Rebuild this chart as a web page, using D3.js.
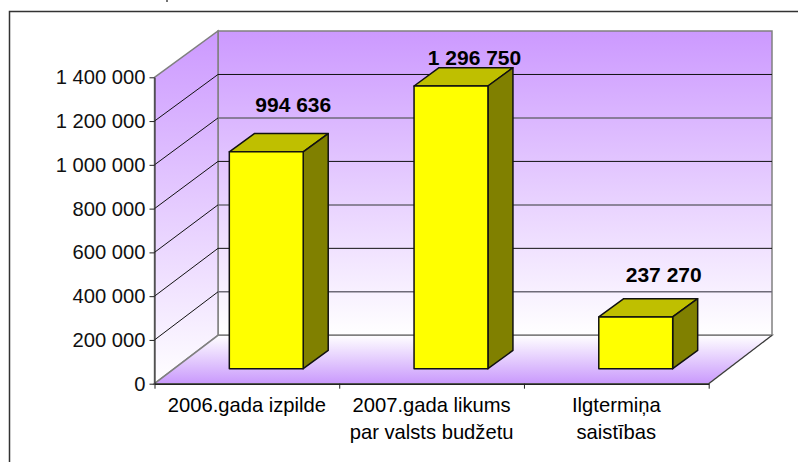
<!DOCTYPE html>
<html>
<head>
<meta charset="utf-8">
<script src="https://cdn.jsdelivr.net/npm/d3@7"></script>
<style>
html, body { margin: 0; padding: 0; background: #fff; overflow: hidden; }
text { font-family: "Liberation Sans", Arial, sans-serif; fill: #000; }
</style>
</head>
<body>
<div id="chart"></div>
<script>
var categories = ["2006.gada izpilde", "2007.gada likums|par valsts budžetu", "Ilgtermiņa|saistības"];
var values = [994636, 1296750, 237270];
var yTicks = [0, 200000, 400000, 600000, 800000, 1000000, 1200000, 1400000];

var width = 798, height = 462;
var plot = {left: 154.5, right: 708.7, top: 77.3, bottom: 383.7};
var back = {left: 218, right: 772, top: 31, bottom: 335.3};
var barDepth = {x: 25, y: 18.3};
var barFloor = {shift: 19.4, bottom: 368.7, top: 63.5};
// data labels were dragged by hand in the original
var labelNudge = [{x: 27, y: -39.7}, {x: 23.5, y: -21}, {x: 28, y: -35}];

var svg = d3.select("#chart").append("svg")
  .attr("width", width)
  .attr("height", height);

var yScale = d3.scaleLinear()
  .domain([0, 1400000])
  .range([plot.bottom, plot.top]);

// the perspective squeezes the back wall and the bars a little
var backScale = d3.scaleLinear()
  .domain([0, 1400000])
  .range([back.bottom, back.top]);

var barScale = d3.scaleLinear()
  .domain([0, 1400000])
  .range([barFloor.bottom, barFloor.top]);

var xScale = d3.scaleBand()
  .domain(categories)
  .range([plot.left, plot.right])
  .paddingInner(0.6)
  .paddingOuter(0.3);

var edgeScale = d3.scaleLinear()
  .domain([0, categories.length])
  .range([plot.left, plot.right]);

var spaced = function(d) {
  return d3.format(",")(d).replace(/,/g, " ");
};

var poly = function(points) {
  return points.map(function(p) { return p.join(","); }).join(" ");
};

var defs = svg.append("defs");

var wallGrad = defs.append("linearGradient")
  .attr("id", "wall").attr("x1", 0).attr("y1", 0).attr("x2", 0).attr("y2", 1);
wallGrad.append("stop").attr("offset", 0).attr("stop-color", "#cc99ff");
wallGrad.append("stop").attr("offset", 1).attr("stop-color", "#ffffff");

var floorGrad = defs.append("linearGradient")
  .attr("id", "floor").attr("x1", 0).attr("y1", 1).attr("x2", 0).attr("y2", 0);
floorGrad.append("stop").attr("offset", 0).attr("stop-color", "#c999fc");
floorGrad.append("stop").attr("offset", 1).attr("stop-color", "#ffffff");

// outer frame, cut by the picture on the right and at the bottom
svg.append("path")
  .attr("d", "M9.5,462V11.5H798")
  .attr("fill", "none")
  .attr("stroke", "#333")
  .attr("stroke-width", 1.5);

// bit of something cut off above the frame
svg.append("line")
  .attr("x1", 167).attr("y1", 0)
  .attr("x2", 167).attr("y2", 2)
  .attr("stroke", "#444")
  .attr("stroke-width", 1.5);

var y0 = yScale(0), yMax = yScale(1400000);

// back wall
svg.append("rect")
  .attr("x", back.left)
  .attr("y", back.top)
  .attr("width", back.right - back.left)
  .attr("height", back.bottom - back.top)
  .attr("fill", "url(#wall)")
  .attr("stroke", "#808080")
  .attr("stroke-width", 1.5);

// side wall
svg.append("polygon")
  .attr("points", poly([[plot.left, yMax], [back.left, back.top], [back.left, back.bottom], [plot.left, y0]]))
  .attr("fill", "url(#wall)")
  .attr("stroke", "#808080")
  .attr("stroke-width", 1.5);

// floor
svg.append("polygon")
  .attr("points", poly([[plot.left, y0], [back.left, back.bottom], [back.right, back.bottom], [plot.right, y0]]))
  .attr("fill", "url(#floor)")
  .attr("stroke", "#808080")
  .attr("stroke-width", 1.5);

svg.append("line")
  .attr("x1", plot.right).attr("y1", y0)
  .attr("x2", back.right).attr("y2", back.bottom)
  .attr("stroke", "#333");

// gridlines on both walls
var gridTicks = yTicks.filter(function(d) { return d > 0 && d < 1400000; });

svg.selectAll(".grid-side")
  .data(gridTicks)
  .enter()
  .append("line")
  .attr("x1", plot.left).attr("y1", function(d) { return yScale(d); })
  .attr("x2", back.left).attr("y2", function(d) { return backScale(d); })
  .attr("stroke", "#111");

svg.selectAll(".grid-back")
  .data(gridTicks)
  .enter()
  .append("line")
  .attr("x1", back.left).attr("y1", function(d) { return backScale(d); })
  .attr("x2", back.right).attr("y2", function(d) { return backScale(d); })
  .attr("stroke", function(d, i) { return i % 2 ? "#111" : "#6e6a78"; })
  .attr("stroke-width", function(d, i) { return i % 2 ? 1 : 1.5; });

// bars
var bars = svg.selectAll(".bar")
  .data(values)
  .enter()
  .append("g")
  .attr("class", "bar");

var barX = function(i) { return xScale(categories[i]) + barFloor.shift; };
var barBottom = barScale(0);
var bw = xScale.bandwidth();

bars.append("polygon")
  .attr("points", function(d, i) {
    var x = barX(i), t = barScale(d);
    return poly([[x, t], [x + barDepth.x, t - barDepth.y], [x + bw + barDepth.x, t - barDepth.y], [x + bw, t]]);
  })
  .attr("fill", "#bfbf00");

bars.append("polygon")
  .attr("points", function(d, i) {
    var x = barX(i) + bw, t = barScale(d);
    return poly([[x, t], [x + barDepth.x, t - barDepth.y], [x + barDepth.x, barBottom - barDepth.y], [x, barBottom]]);
  })
  .attr("fill", "#808000");

bars.append("rect")
  .attr("x", function(d, i) { return barX(i); })
  .attr("y", function(d) { return barScale(d); })
  .attr("width", bw)
  .attr("height", function(d) { return barBottom - barScale(d); })
  .attr("fill", "#ffff00");

bars.selectAll("polygon, rect")
  .attr("stroke", "#111")
  .attr("stroke-width", 1.5)
  .attr("stroke-linejoin", "round");

// data labels
svg.selectAll(".value")
  .data(values)
  .enter()
  .append("text")
  .attr("class", "value")
  .attr("x", function(d, i) { return barX(i) + bw / 2 + labelNudge[i].x; })
  .attr("y", function(d, i) { return barScale(d) + labelNudge[i].y; })
  .attr("text-anchor", "middle")
  .attr("font-size", 21)
  .attr("font-weight", "bold")
  .text(spaced);

// axes
var yAxis = d3.axisLeft(yScale)
  .tickValues(yTicks)
  .tickFormat(spaced)
  .tickSize(5)
  .tickPadding(4)
  .tickSizeOuter(0);

var yAxisGroup = svg.append("g")
  .attr("transform", "translate(" + plot.left + ",0)")
  .call(yAxis);
yAxisGroup.selectAll("text").attr("font-size", 20.2).attr("font-family", null).style("fill", "#111");
yAxisGroup.selectAll("line, path").attr("stroke", "#222");

var xAxis = d3.axisBottom(edgeScale)
  .tickValues(d3.range(categories.length + 1))
  .tickFormat("")
  .tickSize(5)
  .tickSizeOuter(0);

var xAxisGroup = svg.append("g")
  .attr("transform", "translate(0," + y0 + ")")
  .call(xAxis);
xAxisGroup.selectAll("line, path").attr("stroke", "#222");
xAxisGroup.select("path").attr("stroke-width", 1.5);

// category labels, split on |
svg.selectAll(".cat")
  .data(categories)
  .enter()
  .append("text")
  .attr("class", "cat")
  .attr("text-anchor", "middle")
  .attr("font-size", 20.2)
  .attr("y", 412)
  .each(function(d, i) {
    var self = d3.select(this);
    d.split("|").forEach(function(line, k) {
      self.append("tspan")
        .attr("x", edgeScale(i + 0.5))
        .attr("dy", k ? 27 : 0)
        .text(line);
    });
  });
</script>
</body>
</html>
